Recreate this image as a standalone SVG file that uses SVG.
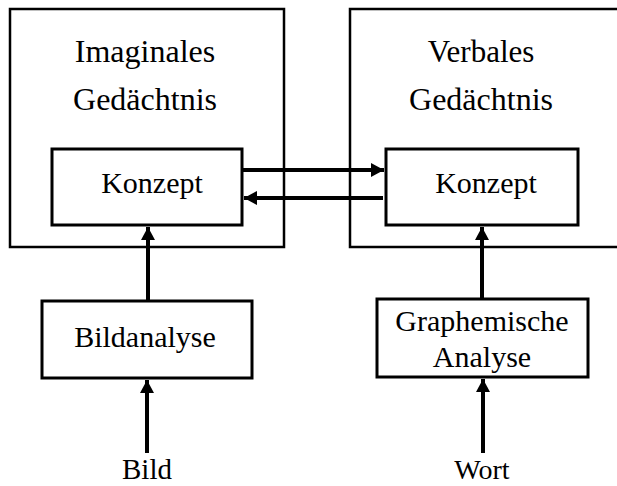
<svg xmlns="http://www.w3.org/2000/svg" width="617" height="486" viewBox="0 0 617 486">
<style>
.box{fill:none;stroke:#000;stroke-width:3}
.outer{fill:none;stroke:#000;stroke-width:2.5}
.t{font-family:"Liberation Serif","Times New Roman","DejaVu Serif",serif;font-size:30px;fill:#000;text-anchor:middle}
.h{font-size:32px}
.c{stroke:#000;stroke-width:4;fill:none}
</style>
<defs>
<marker id="ah" markerUnits="userSpaceOnUse" viewBox="0 0 13 14" refX="13" refY="7" markerWidth="13" markerHeight="14" orient="auto">
<path d="M0,0 L13,7 L0,14 Z" fill="#000"/>
</marker>
</defs>
<rect width="617" height="486" fill="#fff"/>
<g id="imaginal">
<rect class="outer" x="10" y="9" width="274" height="238"/>
<text class="t h" x="145" y="62">Imaginales</text>
<text class="t h" x="145" y="110">Gedächtnis</text>
</g>
<g id="verbal">
<rect class="outer" x="350" y="9" width="280" height="238"/>
<text class="t" x="481" y="62" style="font-size:31px">Verbales</text>
<text class="t h" x="481" y="110">Gedächtnis</text>
</g>
<g id="konzept-links">
<rect class="box" x="52" y="149" width="190" height="76" fill="#fff"/>
<text class="t" x="152" y="193">Konzept</text>
</g>
<g id="konzept-rechts">
<rect class="box" x="386" y="149" width="192" height="76" fill="#fff"/>
<text class="t" x="486" y="193">Konzept</text>
</g>
<g id="bildanalyse">
<rect class="box" x="42" y="301" width="210" height="77"/>
<text class="t" x="145" y="347">Bildanalyse</text>
</g>
<g id="graphemische-analyse">
<rect class="box" x="377" y="299" width="211" height="78"/>
<text class="t" x="482" y="331">Graphemische</text>
<text class="t" x="482" y="367">Analyse</text>
</g>
<g id="bild">
<text class="t" x="147" y="479" style="font-size:29px">Bild</text>
</g>
<g id="wort">
<text class="t" x="482" y="479" style="font-size:28px">Wort</text>
</g>
<g id="connectors">
<line class="c" x1="243" y1="170" x2="384" y2="170" marker-end="url(#ah)"/>
<line class="c" x1="383" y1="198" x2="244" y2="198" marker-end="url(#ah)"/>
<line class="c" x1="148" y1="300" x2="148" y2="227" marker-end="url(#ah)"/>
<line class="c" x1="482" y1="298" x2="482" y2="227" marker-end="url(#ah)"/>
<line class="c" x1="147" y1="453" x2="147" y2="380" marker-end="url(#ah)"/>
<line class="c" x1="483" y1="453" x2="483" y2="379" marker-end="url(#ah)"/>
</g>
</svg>
